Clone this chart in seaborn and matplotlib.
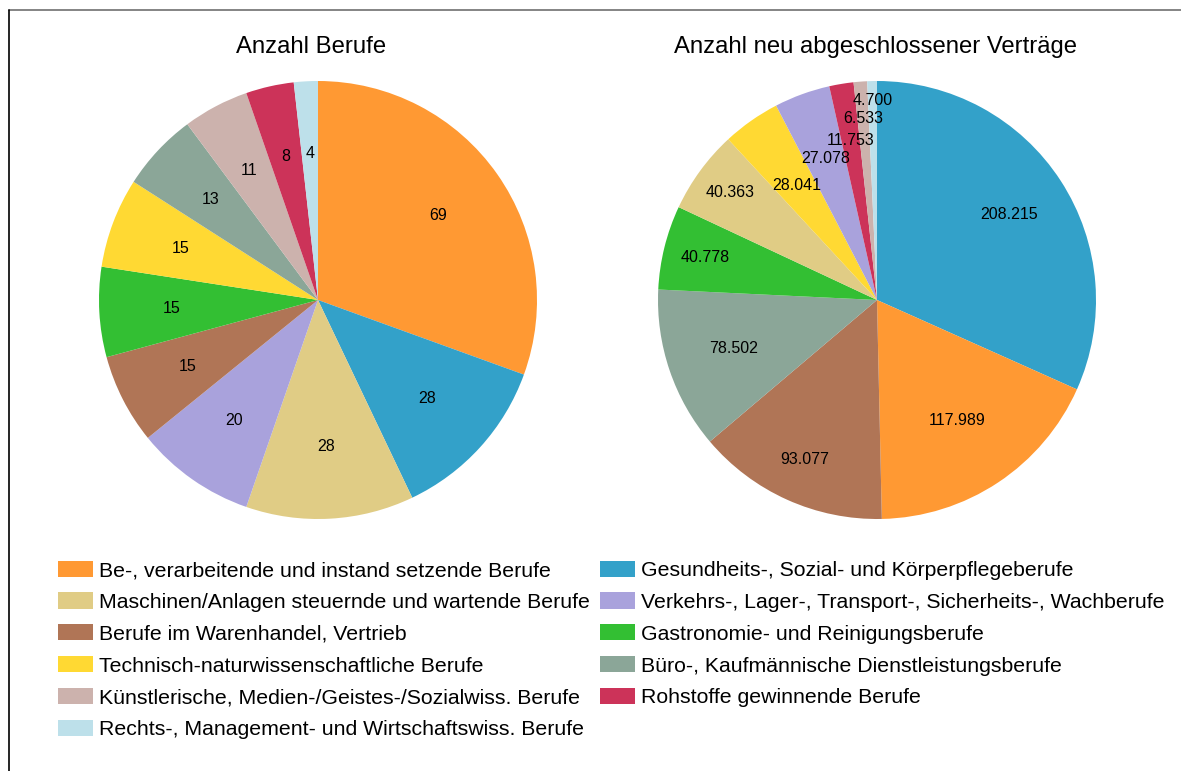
import numpy as np
import matplotlib
matplotlib.use("Agg")
import matplotlib.pyplot as plt
from matplotlib.patches import Patch
from matplotlib.lines import Line2D
import seaborn as sns

sns.set_theme(style="white")
plt.rcParams['font.family'] = ['Liberation Sans', 'DejaVu Sans']
plt.rcParams['text.color'] = 'black'

# ---- data ----
categories = [
    "Be-, verarbeitende und instand setzende Berufe",
    "Gesundheits-, Sozial- und Körperpflegeberufe",
    "Maschinen/Anlagen steuernde und wartende Berufe",
    "Verkehrs-, Lager-, Transport-, Sicherheits-, Wachberufe",
    "Berufe im Warenhandel, Vertrieb",
    "Gastronomie- und Reinigungsberufe",
    "Technisch-naturwissenschaftliche Berufe",
    "Büro-, Kaufmännische Dienstleistungsberufe",
    "Künstlerische, Medien-/Geistes-/Sozialwiss. Berufe",
    "Rohstoffe gewinnende Berufe",
    "Rechts-, Management- und Wirtschaftswiss. Berufe",
]
colors = ["#FF9933", "#33A1C9", "#E0CC85", "#A9A2DC", "#B07556", "#33BF33",
          "#FFD933", "#8BA698", "#CCB2AD", "#CC3359", "#BDE0EA"]

anzahl_berufe = [69, 28, 28, 20, 15, 15, 15, 13, 11, 8, 4]

vertraege_order = [1, 0, 4, 7, 5, 2, 6, 3, 9, 8, 10]   # category index per slice
vertraege = [208215, 117989, 93077, 78502, 40778, 40363, 28041, 27078, 11753, 6533, 4700]

titles = ["Anzahl Berufe", "Anzahl neu abgeschlossener Verträge"]

# label radial distances (fraction of radius)
dist1 = [0.67] * 11
dist2 = [0.72, 0.66, 0.80, 0.69, 0.81, 0.83, 0.64, 0.69, 0.74, 0.83, 0.91]


def fmt_de(v):
    return f"{v:,}".replace(",", ".")


W, H = 1181, 771
fig = plt.figure(figsize=(W / 100, H / 100), dpi=100)
fig.patch.set_facecolor("white")

R = 219
centers = [(318, 300), (877, 300)]
title_x = [311, 875]


def add_pie(center, tx, values, cols, labels, dists, title):
    cx, cy = center
    ax = fig.add_axes([(cx - R) / W, (H - cy - R) / H, 2 * R / W, 2 * R / H])
    ax.pie(values, colors=cols, startangle=90, counterclock=False,
           radius=1, wedgeprops=dict(linewidth=0))
    total = float(sum(values))
    start = 90.0
    for v, lab, d in zip(values, labels, dists):
        span = 360.0 * v / total
        mid = np.deg2rad(start - span / 2)
        ax.text(d * np.cos(mid), d * np.sin(mid), lab, ha="center", va="center",
                fontsize=11.5, color="black")
        start -= span
    ax.set_xlim(-1, 1)
    ax.set_ylim(-1, 1)
    ax.set_aspect("equal")
    ax.axis("off")
    fig.text(tx / W, 1 - 47 / H, title, ha="center", va="center", fontsize=17.2,
             color="black")
    return ax


add_pie(centers[0], title_x[0], anzahl_berufe, colors,
        [str(v) for v in anzahl_berufe], dist1, titles[0])
add_pie(centers[1], title_x[1], vertraege, [colors[i] for i in vertraege_order],
        [fmt_de(v) for v in vertraege], dist2, titles[1])

# legend: row-major order in two columns -> column-major for matplotlib
col1 = list(range(0, 11, 2))
col2 = list(range(1, 11, 2))
order = col1 + col2
handles = [Patch(facecolor=colors[i], edgecolor="none", label=categories[i]) for i in order]
fs = 15.3
fpx = fs * 100 / 72
leg = fig.legend(handles=handles, loc="upper left", ncol=2,
                 bbox_to_anchor=(58 / W, 1 - 560.5 / H), frameon=False,
                 fontsize=fs, handlelength=35 / fpx, handleheight=0.8,
                 handletextpad=6 / fpx, columnspacing=10 / fpx,
                 labelspacing=0.58, borderpad=0, borderaxespad=0)
for t in leg.get_texts():
    t.set_color("black")

# frame lines (top and left)
fig.add_artist(Line2D([9 / W, 1], [1 - 9.5 / H, 1 - 9.5 / H], color="#707070", lw=1.2,
                      transform=fig.transFigure))
fig.add_artist(Line2D([9 / W, 9 / W], [0, 1 - 9.5 / H], color="black", lw=1.2,
                      transform=fig.transFigure))

fig.savefig("out.png", dpi=100, facecolor="white")
